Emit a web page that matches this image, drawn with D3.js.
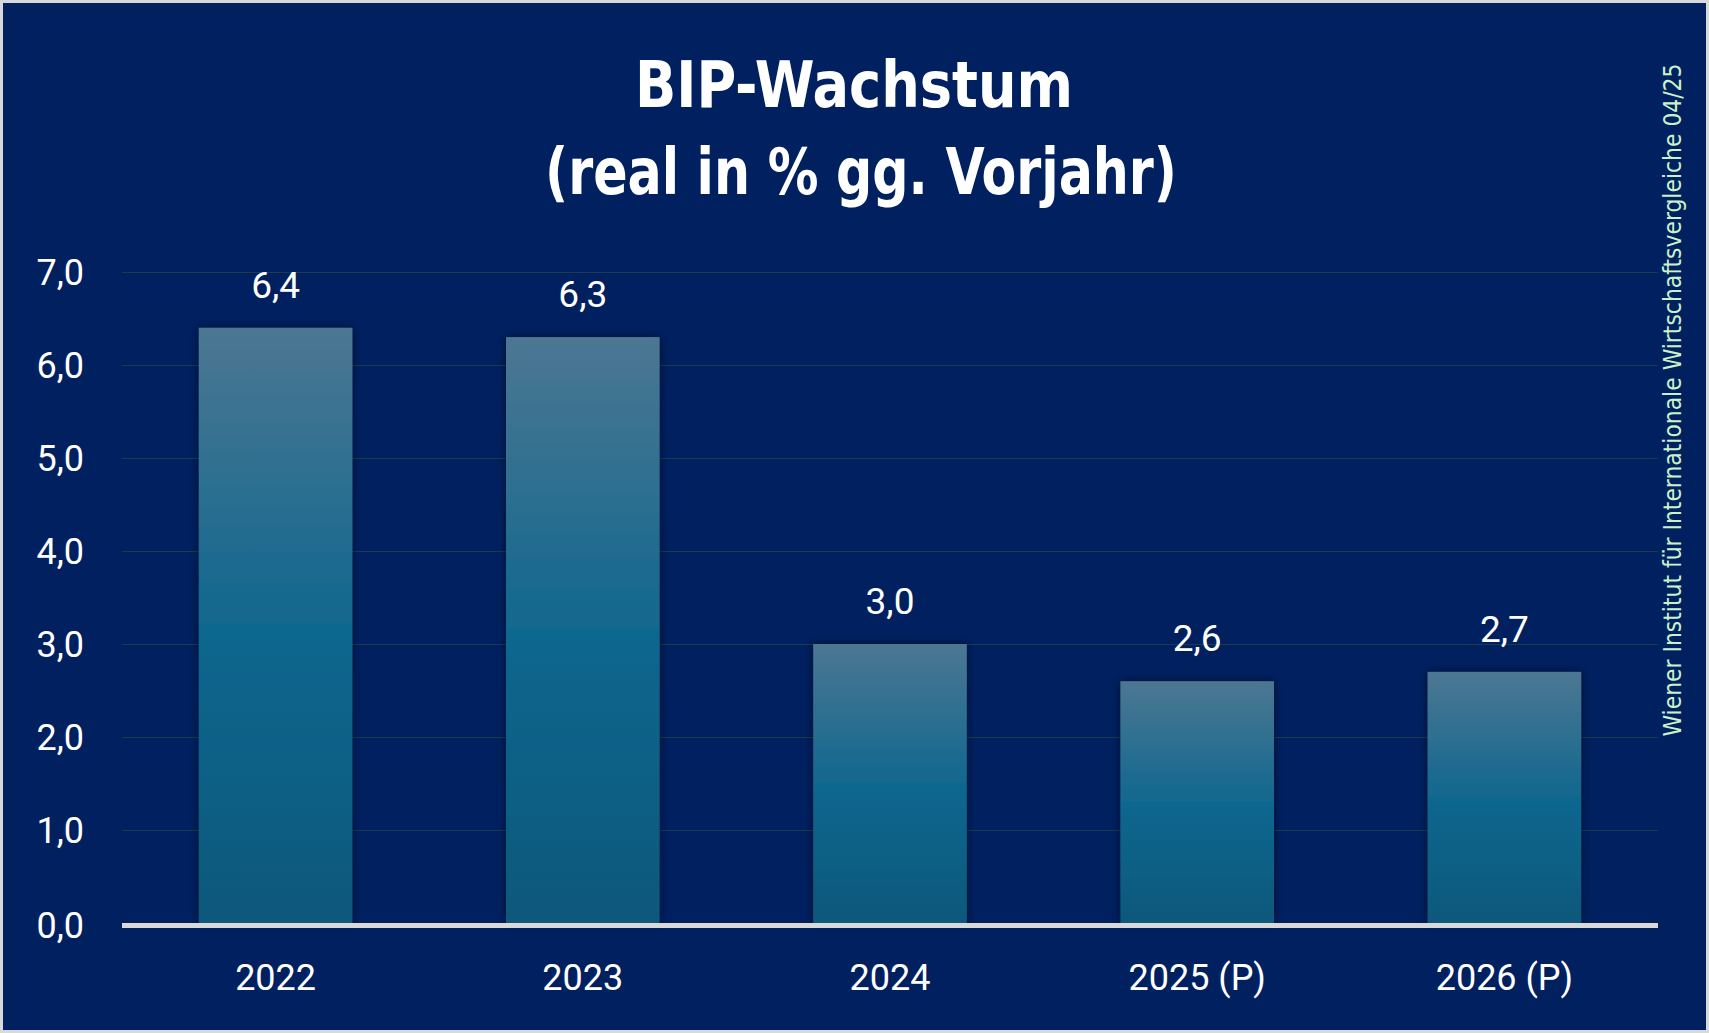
<!DOCTYPE html>
<html>
<head>
<meta charset="utf-8">
<script src="https://cdn.jsdelivr.net/npm/d3@7"></script>
<style>
  html, body { margin: 0; padding: 0; background: #ffffff; }
  svg { display: block; }
</style>
</head>
<body>
<script>
// chart values
var years = ["2022", "2023", "2024", "2025 (P)", "2026 (P)"];
var growth = [6.4, 6.3, 3.0, 2.6, 2.7];
var yTicks = [0, 1, 2, 3, 4, 5, 6, 7];
var titleLines = ["BIP-Wachstum", "(real in % gg. Vorjahr)"];
var sourceText = "Wiener Institut für Internationale Wirtschaftsvergleiche 04/25";

var width = 1709,
    height = 1033;

var data = years.map(function(y, i) { return { year: y, value: growth[i] }; });

var locale = d3.formatLocale({ decimal: ",", thousands: ".", grouping: [3], currency: ["", "€"] });
var fmt = locale.format(".1f");

var svg = d3.select("body").append("svg")
    .attr("width", width)
    .attr("height", height);

// frame + background
svg.append("rect")
    .attr("x", 0).attr("y", 0)
    .attr("width", width).attr("height", height)
    .attr("fill", "#d9d9d9");
svg.append("rect")
    .attr("x", 3).attr("y", 3)
    .attr("width", width - 6).attr("height", height - 6)
    .attr("fill", "#002060");

var defs = svg.append("defs");
var grad = defs.append("linearGradient")
    .attr("id", "barGrad")
    .attr("x1", 0).attr("y1", 0).attr("x2", 0).attr("y2", 1);
grad.append("stop").attr("offset", "0%").attr("stop-color", "#4c7792");
grad.append("stop").attr("offset", "50%").attr("stop-color", "#11678f");
grad.append("stop").attr("offset", "100%").attr("stop-color", "#09587b");

var shadow = defs.append("filter")
    .attr("id", "barShadow")
    .attr("x", "-20%").attr("y", "-10%")
    .attr("width", "140%").attr("height", "120%");
shadow.append("feDropShadow")
    .attr("dx", 0).attr("dy", 0)
    .attr("stdDeviation", 5)
    .attr("flood-color", "#000000")
    .attr("flood-opacity", 0.55);

// scales
var plotLeft = 122, plotRight = 1658, plotTop = 272, plotBottom = 923;

var x = d3.scaleBand()
    .domain(years)
    .range([plotLeft, plotRight])
    .paddingInner(0.5)
    .paddingOuter(0.25);

var y = d3.scaleLinear()
    .domain([0, 7])
    .range([plotBottom, plotTop]);

// gridlines
svg.append("g")
  .selectAll("line")
  .data(yTicks.filter(function(d) { return d > 0; }))
  .enter().append("line")
    .attr("x1", plotLeft)
    .attr("x2", plotRight)
    .attr("y1", function(d) { return y(d) + 0.5; })
    .attr("y2", function(d) { return y(d) + 0.5; })
    .attr("stroke", "#1b3b4c")
    .attr("stroke-width", 1.2);

// y axis labels
svg.append("g")
  .selectAll("text")
  .data(yTicks)
  .enter().append("text")
    .attr("x", 84)
    .attr("y", function(d) { return y(d) + (d === 0 ? 2 : 0); })
    .attr("dy", "0.36em")
    .attr("text-anchor", "end")
    .style("font-family", "Roboto, 'Liberation Sans', sans-serif")
    .style("font-size", "36px")
    .attr("fill", "#ffffff")
    .text(function(d) { return fmt(d); });

// bars
svg.append("g")
  .selectAll("rect")
  .data(data)
  .enter().append("rect")
    .attr("x", function(d) { return x(d.year); })
    .attr("y", function(d) { return y(d.value); })
    .attr("width", x.bandwidth())
    .attr("height", function(d) { return y(0) - y(d.value); })
    .attr("fill", "url(#barGrad)")
    .attr("filter", "url(#barShadow)");

// value labels
svg.append("g")
  .selectAll("text")
  .data(data)
  .enter().append("text")
    .attr("x", function(d) { return x(d.year) + x.bandwidth() / 2; })
    .attr("y", function(d) { return y(d.value) - 30; })
    .attr("text-anchor", "middle")
    .style("font-family", "Roboto, 'Liberation Sans', sans-serif")
    .style("font-size", "37px")
    .attr("fill", "#ffffff")
    .text(function(d) { return fmt(d.value); });

// baseline
svg.append("line")
    .attr("x1", plotLeft)
    .attr("x2", plotRight)
    .attr("y1", y(0) + 2.5)
    .attr("y2", y(0) + 2.5)
    .attr("stroke", "#d9d9d9")
    .attr("stroke-width", 5);

// x axis labels
svg.append("g")
  .selectAll("text")
  .data(years)
  .enter().append("text")
    .attr("x", function(d) { return x(d) + x.bandwidth() / 2; })
    .attr("y", 990)
    .attr("text-anchor", "middle")
    .style("font-family", "Roboto, 'Liberation Sans', sans-serif")
    .style("font-size", "36px")
    .attr("fill", "#ffffff")
    .text(function(d) { return d; });

// title
var titleWidths = [438, 632];
var titleCenter = [854, 861];
var titleBase = [107, 194];
svg.append("g")
  .selectAll("text")
  .data(titleLines)
  .enter().append("text")
    .attr("x", function(d, i) { return titleCenter[i]; })
    .attr("y", function(d, i) { return titleBase[i]; })
    .attr("text-anchor", "middle")
    .attr("textLength", function(d, i) { return titleWidths[i]; })
    .attr("lengthAdjust", "spacingAndGlyphs")
    .style("font-family", "'DejaVu Sans Condensed', 'DejaVu Sans', sans-serif")
    .style("font-stretch", "condensed")
    .style("font-weight", "bold")
    .style("font-size", "64px")
    .attr("fill", "#ffffff")
    .text(function(d) { return d; });

// source, vertical on the right
svg.append("text")
    .attr("transform", "translate(1681,400) rotate(-90)")
    .attr("text-anchor", "middle")
    .attr("textLength", 673)
    .attr("lengthAdjust", "spacingAndGlyphs")
    .style("font-family", "'DejaVu Sans Condensed', 'DejaVu Sans', sans-serif")
    .style("font-stretch", "condensed")
    .style("font-size", "24px")
    .attr("fill", "#c8f2c8")
    .text(sourceText);
</script>
</body>
</html>
